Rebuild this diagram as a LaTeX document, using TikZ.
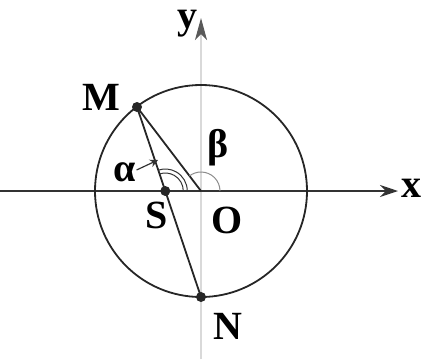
\documentclass[tikz,border=0pt]{standalone}
\usepackage{fontspec}
\setmainfont{Liberation Serif}
\usetikzlibrary{arrows.meta,angles,calc}

\begin{document}
\begin{tikzpicture}[
    x=0.5pt, y=0.5pt,
    every node/.style={font=\fontsize{20}{20}\selectfont\bfseries, inner sep=0pt},
    axis/.style={line width=1pt, draw=black!80, -{Stealth[length=9pt,width=6pt,inset=3pt]}},
    yaxis/.style={line width=0.6pt, draw=black!15, -{Stealth[length=11pt,width=6pt,inset=3pt,color=black!65]}},
    seg/.style={line width=0.9pt, draw=black!85},
    ptr/.style={line width=0.6pt, draw=black!80, -{Stealth[length=4pt,width=4pt]}},
    dot/.style={circle, fill=black!85, inner sep=0pt, minimum size=5pt}
]
\useasboundingbox (0,0) rectangle (433,-359);

% axes
\coordinate (xl) at (0,-191);
\coordinate (xr) at (398,-191);
\coordinate (yb) at (201,-359);
\coordinate (yt) at (201,-18);
\draw[yaxis] (yb) -- (yt);
\draw[axis] (xl) -- (xr);
\node (xlab) at (411,-188) {x};
\node (ylab) at (187,-24) {y};

% circle and points
\coordinate (O) at (201,-191);
\coordinate (M) at (137,-107);
\coordinate (N) at (201,-297);
\coordinate (S) at (intersection of M--N and xl--xr);
\draw[seg] (O) circle (106);
\draw[seg] (M) -- (N);
\draw[seg] (M) -- (O);

% angles
\pic[draw=black!80, line width=0.5pt, angle radius=9pt] {angle=xr--S--M};
\pic[draw=black!80, line width=0.5pt, angle radius=11pt] {angle=xr--S--M};
\pic[draw=black!45, line width=0.5pt, angle radius=9.5pt] {angle=xr--O--M};

\node[dot] (m) at (M) {};
\node[dot] (s) at (S) {};
\node[dot] (n) at (N) {};

% labels
\node (Mlab) at (101,-97) {M};
\node (Slab) at (157,-215) {S};
\node (Olab) at (227,-220) {O};
\node (Nlab) at (228,-326) {N};
\node (blab) at (218,-148) {β};
\node (alab) at (125,-172) {α};
\coordinate (atip) at (158,-160);
\draw[ptr] (alab.east) ++(0,2) -- (atip);
\end{tikzpicture}
\end{document}
